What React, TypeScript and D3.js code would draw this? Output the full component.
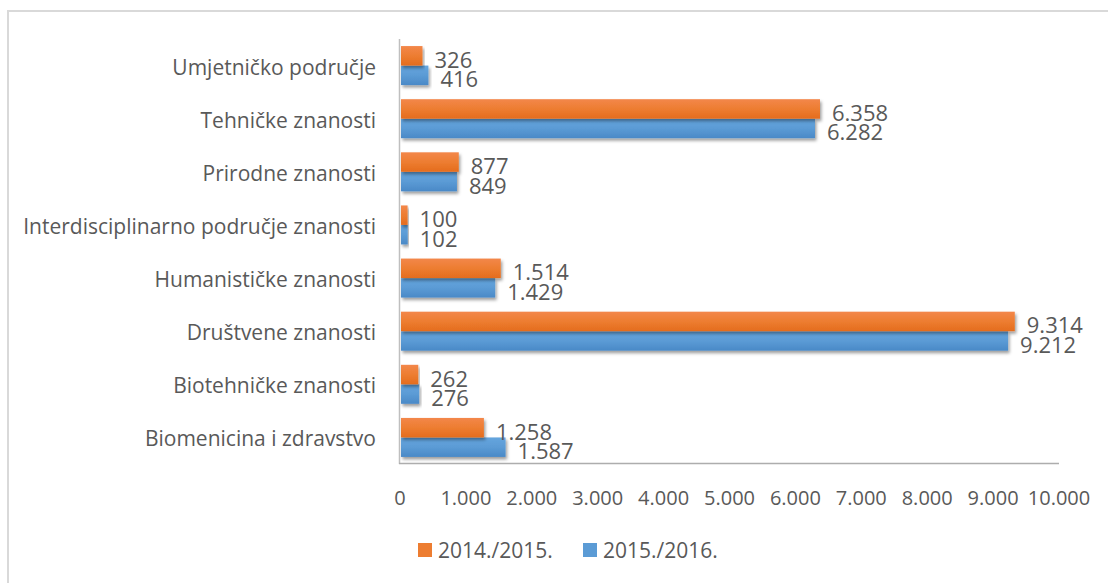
import React from "react";
import * as d3 from "d3";

const categories = [
  "Umjetničko područje",
  "Tehničke znanosti",
  "Prirodne znanosti",
  "Interdisciplinarno područje znanosti",
  "Humanističke znanosti",
  "Društvene znanosti",
  "Biotehničke znanosti",
  "Biomenicina i zdravstvo",
];
const series2014 = [326, 6358, 877, 100, 1514, 9314, 262, 1258];
const series2015 = [416, 6282, 849, 102, 1429, 9212, 276, 1587];
const seriesNames = ["2014./2015.", "2015./2016."];
const xTicks = [0, 1000, 2000, 3000, 4000, 5000, 6000, 7000, 8000, 9000, 10000];

const W = 1108;
const H = 583;
const FONT = "'Open Sans', sans-serif";
const TEXT = "#595959";

const locale = d3.formatLocale({ decimal: ",", thousands: ".", grouping: [3], currency: ["", ""] });
const fmt = locale.format(",d");

export default function App() {
  const x = d3.scaleLinear().domain([0, 10000]).range([400, 1059]);
  const y = d3.scaleBand<string>().domain(categories).range([39, 464]).padding(0);
  const groupH = 39;
  const sub = d3.scaleBand<string>().domain(seriesNames).range([0, groupH]).padding(0);
  const data = [series2014, series2015];
  const gradIds = ["gOrange", "gBlue"];

  return (
    <svg width={W} height={H} style={{ position: "absolute", left: 0, top: 0, background: "#fff" }}>
      <defs>
        <linearGradient id="gOrange" x1="0" y1="0" x2="0" y2="1">
          <stop offset="0" stopColor="#f3874a" />
          <stop offset="0.5" stopColor="#ed7d31" />
          <stop offset="1" stopColor="#e46c1d" />
        </linearGradient>
        <linearGradient id="gBlue" x1="0" y1="0" x2="0" y2="1">
          <stop offset="0" stopColor="#65a5de" />
          <stop offset="0.5" stopColor="#5b9bd5" />
          <stop offset="1" stopColor="#4a89c7" />
        </linearGradient>
        <filter id="shadow" x="-5%" y="-30%" width="115%" height="180%">
          <feDropShadow dx="1.5" dy="2.5" stdDeviation="1.6" floodColor="#000" floodOpacity="0.38" />
        </filter>
      </defs>
      <rect x={8} y={11} width={1300} height={800} fill="#fff" stroke="#d9d9d9" strokeWidth={2} />

      {/* bars */}
      {categories.map((c, i) => {
        const top = (y(c) as number) + y.bandwidth() / 2 - groupH / 2;
        return (
          <g key={c}>
            {[1, 0].map((s) => (
              <rect
                key={s}
                x={x(0) + 1}
                y={top + (sub(seriesNames[s]) as number)}
                width={x(data[s][i]) - x(0)}
                height={sub.bandwidth()}
                fill={`url(#${gradIds[s]})`}
                filter="url(#shadow)"
              />
            ))}
          </g>
        );
      })}

      {/* axes */}
      <line x1={399.5} x2={399.5} y1={39} y2={464} stroke="#bfbfbf" strokeWidth={1.5} />
      <line x1={399} x2={1059} y1={463.5} y2={463.5} stroke="#adadad" strokeWidth={1.5} />

      {/* category labels */}
      {categories.map((c) => (
        <text
          key={c}
          x={376}
          y={(y(c) as number) + y.bandwidth() / 2 + 1}
          textAnchor="end"
          dominantBaseline="central"
          fontFamily={FONT}
          fontSize={21}
          fill={TEXT}
        >
          {c}
        </text>
      ))}

      {/* value labels */}
      {categories.map((c, i) => {
        const top = (y(c) as number) + y.bandwidth() / 2 - groupH / 2;
        return seriesNames.map((sn, s) => (
          <text
            key={c + sn}
            x={x(data[s][i]) + 13}
            y={top + (sub(sn) as number) + sub.bandwidth() / 2 + 3}
            dominantBaseline="central"
            fontFamily={FONT}
            fontSize={22}
            fill={TEXT}
          >
            {fmt(data[s][i])}
          </text>
        ));
      })}

      {/* x tick labels */}
      {xTicks.map((t) => (
        <text
          key={t}
          x={x(t)}
          y={497}
          textAnchor="middle"
          dominantBaseline="central"
          fontFamily={FONT}
          fontSize={20}
          fill={TEXT}
        >
          {fmt(t)}
        </text>
      ))}

      {/* legend */}
      {seriesNames.map((sn, s) => {
        const lx = [418, 583][s];
        return (
          <g key={sn}>
            <rect x={lx} y={543} width={14} height={14} fill={["#ed7d31", "#5b9bd5"][s]} />
            <text x={lx + 20} y={550} dominantBaseline="central" fontFamily={FONT} fontSize={21} fill={TEXT}>
              {sn}
            </text>
          </g>
        );
      })}
    </svg>
  );
}
